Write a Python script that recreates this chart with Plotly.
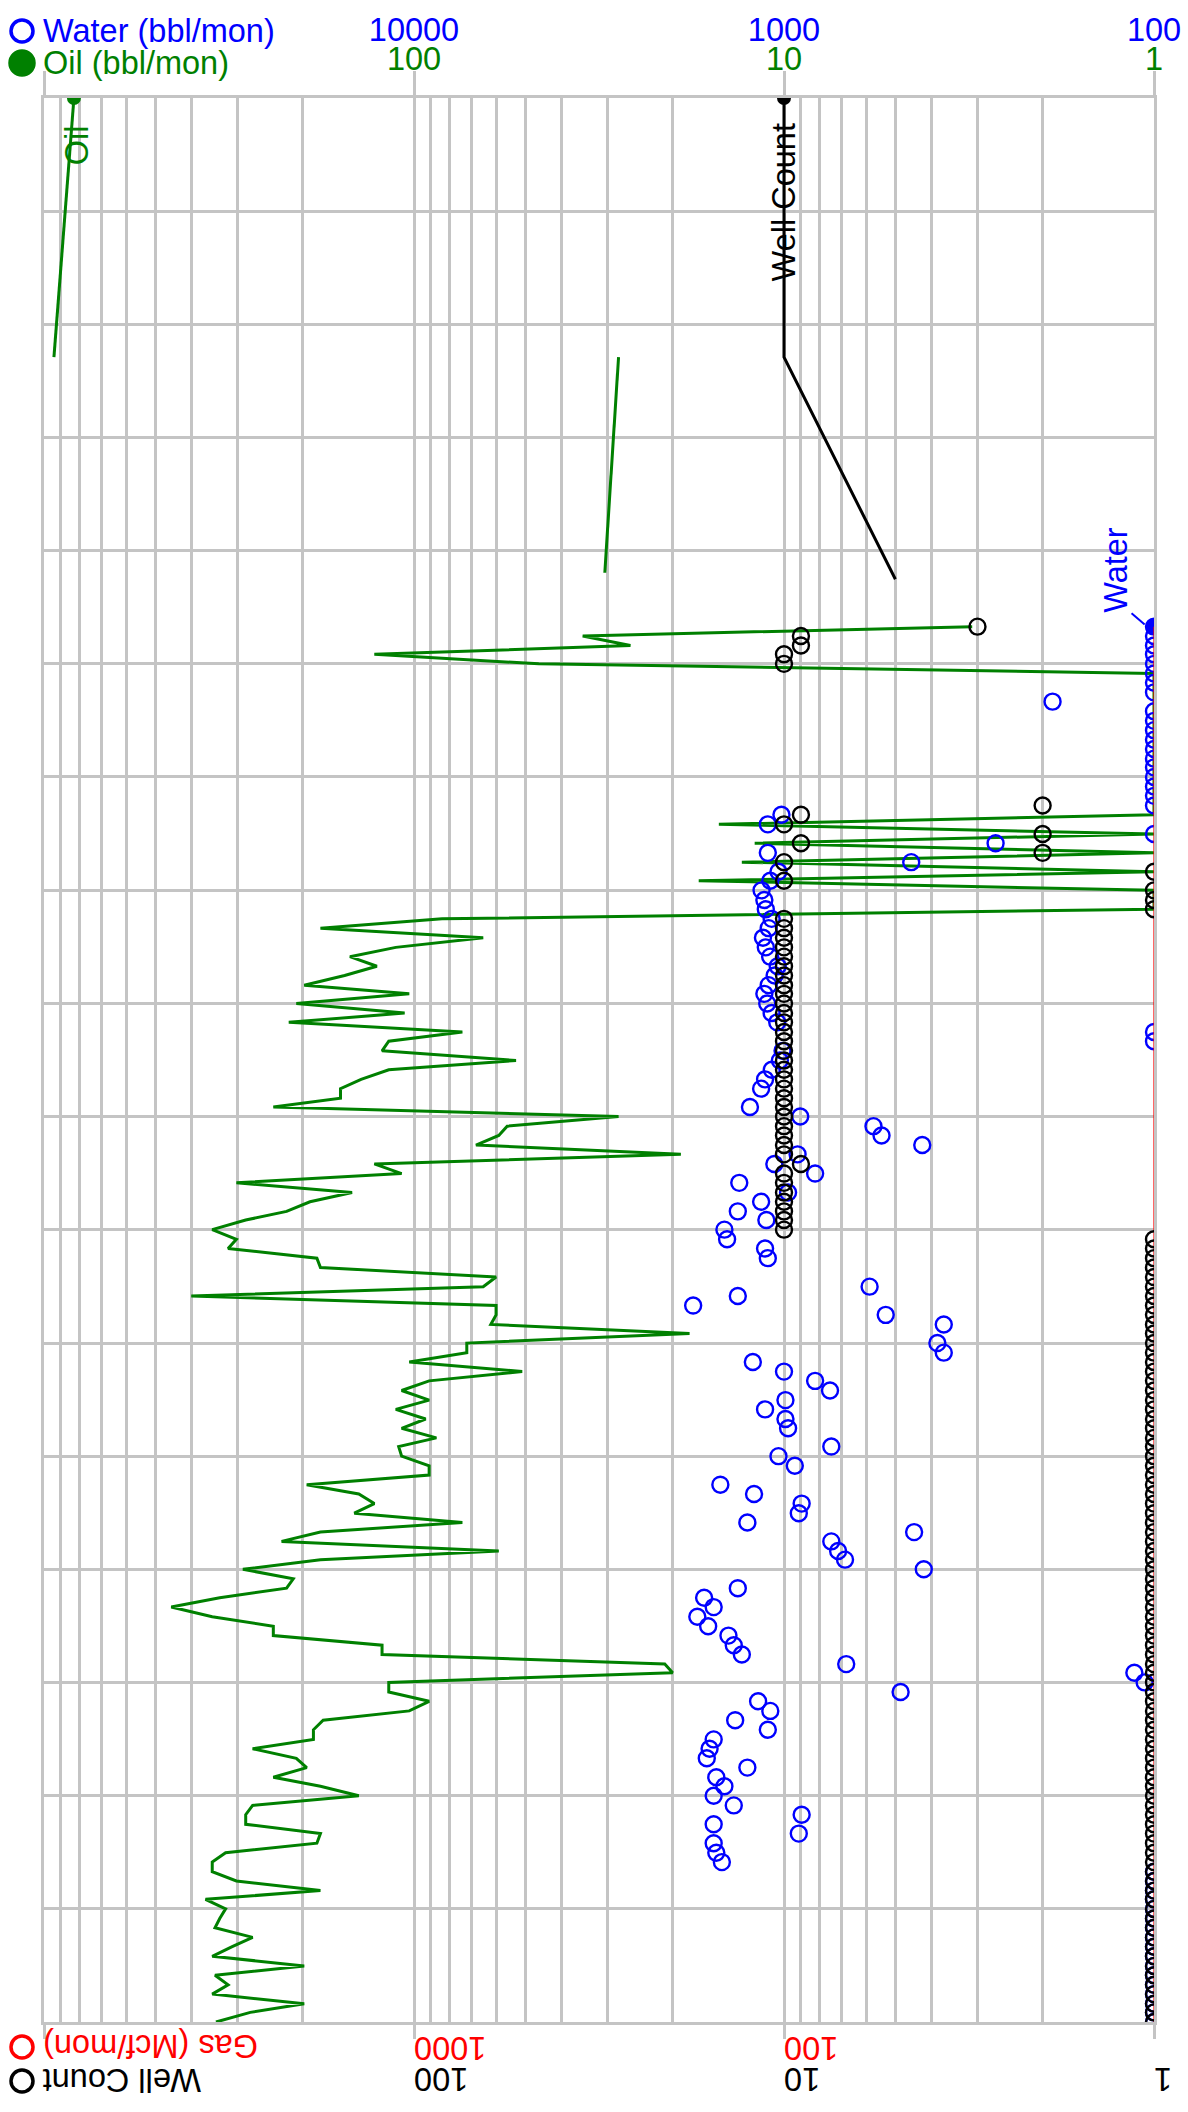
import pandas as pd
import plotly.graph_objects as go

# ---------------- monthly history, first month Jan 2010 ----------------
START = "2010-01-01"

oil_bbl = [
    343, 277, 198, 351, 318, 345, 198, 351, 310, 273,
    345, 335, 323, 366, 179, 302, 351, 351, 323, 183,
    179, 285, 285, 273, 141, 179, 240, 195, 208, 273,
    187, 187, 176, 103, 91, 117, 117, 20, 21, 122,
    122, 240, 240, 351, 453, 335, 221, 212, 290, 179,
    59, 228, 179, 74, 145, 128, 141, 195, 91, 91,
    108, 110, 87, 108, 93, 112, 91, 108, 91, 51,
    103, 72, 72, 18, 62, 60, 60, 400, 65, 60,
    179, 183, 318, 302, 351, 285, 221, 191, 147, 302,
    108, 128, 19, 68, 59, 56, 28, 240, 158, 158,
    139, 117, 53, 122, 117, 74, 218, 106, 208, 103,
    198, 154, 126, 149, 112, 65, 179, 84, 1, 1,
    1, 17, 1, 13, 1, 12, 1, 15, 1, 1,
    1, 1, 1, 1, 1, 1, 1, 1, 1, 1,
    1, 1, 1, 1, 46, 128, 26, 35, 3.1,
]

water_bbl = [
    100, 100, 100, 100, 100, 100, 100, 100, 100, 100,
    100, 100, 100, 100, 100, 100, 100, 1472, 1524, 1549,
    912, 1549, 896, 1367, 1549, 1449, 1524, 1256, 1617, 1589,
    1549, 1106, 1355, 1089, 1175, 484, 106, 113, 679, 1300,
    1367, 1413, 1603, 1715, 1549, 1644, 1333, None, 419, 684,
    714, 745, 445, 1256, 912, 896, 1205, 1486, None, 935,
    1035, 745, None, 975, 991, 1125, 991, 751, 824, 1000,
    1214, 370, 385, None, 370, 531, 1760, 1333, 587, None,
    None, 1106, 1125, 1425, 1449, 1116, 1333, 1153, 975, 1321,
    824, 1062, 919, 423, 545, 573, 904, 1236, None, 1153,
    1125, 1079, 1026, 1009, 100, 100, 1043, 1080, 1110, 1130,
    1100, 1060, 1040, 1090, 1120, 1140, 1100, 1080, 1120, 1130,
    1150, 1089, 1035, 453, 1106, 268, 100, 1106, 1016, 100,
    100, 100, 100, 100, 100, 100, 100, 100, 100, 100,
    188, 100, 100, 100, 100, 100, 100, 100, 100,
]

well_count = [
    1, 1, 1, 1, 1, 1, 1, 1, 1, 1,
    1, 1, 1, 1, 1, 1, 1, 1, 1, 1,
    1, 1, 1, 1, 1, 1, 1, 1, 1, 1,
    1, 1, 1, 1, 1, 1, 1, 1, 1, 1,
    1, 1, 1, 1, 1, 1, 1, 1, 1, 1,
    1, 1, 1, 1, 1, 1, 1, 1, 1, 1,
    1, 1, 1, 1, 1, 1, 1, 1, 1, 1,
    1, 1, 1, 1, 1, 1, 1, 1, 1, 1,
    1, 1, 1, 1, 10, 10, 10, 10, 10, 10,
    10, 9, 10, 10, 10, 10, 10, 10, 10, 10,
    10, 10, 10, 10, 10, 10, 10, 10, 10, 10,
    10, 10, 10, 10, 10, 10, 10, 10, 1, 1,
    1, 10, 1, 10, 2, 9, 2, 10, 9, 2,
    None, None, None, None, None, None, None, None, None, None,
    None, None, None, None, 10, 10, 9, 9, 3,
]

# gas reported at the axis floor for the whole history
gas_dates = ["2010-01-01", "2022-05-01"]
gas_mcf = [10, 10]

# label call-outs (value, date)
oil_leader_a = ([830, 940], ["2027-01-01", "2024-09-17"])
oil_leader_b = ([28, 30.5], ["2024-09-17", "2022-10-22"])
well_leader = ([10, 10, 5], ["2027-01-01", "2024-09-17", "2022-10-01"])
water_leader = ([115, 106], ["2022-06-13", "2022-05-08"])

# axis tick values
oil_ticks = [1, 10, 100, 1000]
oil_ticktext = ["1", "10", "100", ""]
water_ticks = [100, 1000, 10000]
water_ticktext = ["100", "1000", "10000"]
gas_ticks = [10, 100, 1000, 10000]
gas_ticktext = ["10", "100", "1000", ""]
well_ticks = [1, 10, 100]
well_ticktext = ["1", "10", "100"]
minor_oil = [m * d for d in (1, 10, 100) for m in range(2, 10)]

DATE_RANGE = ["2010-01-01", "2027-01-01"]

months = pd.date_range(START, periods=len(oil_bbl), freq="MS")

GREEN = "#008000"
BLUE = "#0000ff"
RED = "#ff0000"
BLACK = "#000000"
GRID = "#c4c4c4"
FONT = "Liberation Sans, Arial, sans-serif"
FS = 32.5
MS = 16

W, H = 1188, 2112
L, R, T, B = 44, 1154, 98, 2022


def px(x):
    return (x - L) / (R - L)


def py(y):
    return (B - y) / (B - T)


fig = go.Figure()

fig.add_trace(go.Scatter(
    x=gas_mcf, y=gas_dates, xaxis="x3", yaxis="y", mode="lines",
    line=dict(color=RED, width=1.2), hoverinfo="skip"))

fig.add_trace(go.Scatter(
    x=well_count, y=months, xaxis="x4", yaxis="y", mode="markers",
    marker=dict(symbol="circle-open", size=MS, color=BLACK, line=dict(width=2.4))))

fig.add_trace(go.Scatter(
    x=water_bbl, y=months, xaxis="x2", yaxis="y", mode="markers",
    marker=dict(symbol="circle-open", size=MS, color=BLUE, line=dict(width=2.4))))

fig.add_trace(go.Scatter(
    x=oil_bbl, y=months, xaxis="x", yaxis="y", mode="lines",
    line=dict(color=GREEN, width=3)))

# call-out leaders
fig.add_trace(go.Scatter(x=oil_leader_a[0], y=oil_leader_a[1], xaxis="x", yaxis="y",
                         mode="lines", line=dict(color=GREEN, width=3)))
fig.add_trace(go.Scatter(x=oil_leader_b[0], y=oil_leader_b[1], xaxis="x", yaxis="y",
                         mode="lines", line=dict(color=GREEN, width=3)))
fig.add_trace(go.Scatter(x=[oil_leader_a[0][0]], y=[oil_leader_a[1][0]], xaxis="x", yaxis="y",
                         mode="markers", marker=dict(color=GREEN, size=14)))
fig.add_trace(go.Scatter(x=well_leader[0], y=well_leader[1], xaxis="x4", yaxis="y",
                         mode="lines", line=dict(color=BLACK, width=3)))
fig.add_trace(go.Scatter(x=[well_leader[0][0]], y=[well_leader[1][0]], xaxis="x4", yaxis="y",
                         mode="markers", marker=dict(color=BLACK, size=14)))
fig.add_trace(go.Scatter(x=water_leader[0], y=water_leader[1], xaxis="x2", yaxis="y",
                         mode="lines", line=dict(color=BLUE, width=2)))
fig.add_trace(go.Scatter(x=[water_bbl[-1]], y=[months[-1]], xaxis="x2", yaxis="y",
                         mode="markers", marker=dict(color=BLUE, size=MS)))

common = dict(type="log", automargin=False, zeroline=False)

fig.update_layout(
    template="none",
    width=W, height=H,
    margin=dict(l=L, r=W - R, t=T, b=H - B, pad=0),
    paper_bgcolor="white", plot_bgcolor="white",
    showlegend=False,
    font=dict(family=FONT, size=FS),
    xaxis=dict(
        **common, range=[3, 0], side="top", anchor="y",
        tickvals=oil_ticks, ticktext=oil_ticktext,
        tickfont=dict(color=GREEN, size=FS),
        ticks="outside", ticklen=24, tickwidth=2.5, tickcolor=GRID,
        ticklabelstandoff=-12,
        showgrid=True, gridcolor=GRID, gridwidth=2.5,
        minor=dict(tickvals=minor_oil, showgrid=True, gridcolor=GRID, gridwidth=2.5, ticks=""),
        showline=True, linecolor=GRID, linewidth=2.5, mirror=True,
    ),
    xaxis2=dict(
        **common, range=[5, 2], side="top", anchor="y", overlaying="x",
        tickvals=water_ticks, ticktext=water_ticktext, tickfont=dict(color=BLUE, size=FS),
        ticks="", showgrid=False, showline=False, ticklabelstandoff=50,
    ),
    xaxis3=dict(
        **common, range=[4, 1], side="bottom", anchor="y", overlaying="x",
        tickvals=gas_ticks, ticktext=gas_ticktext, tickangle=180,
        tickfont=dict(color=RED, size=FS),
        ticks="outside", ticklen=16, tickwidth=2.5, tickcolor=GRID,
        ticklabelstandoff=-9,
        showgrid=False, showline=False,
    ),
    xaxis4=dict(
        **common, range=[3, 0], side="bottom", anchor="y", overlaying="x",
        tickvals=well_ticks, ticktext=well_ticktext, tickangle=180,
        tickfont=dict(color=BLACK, size=FS),
        ticks="", showgrid=False, showline=False, ticklabelstandoff=45,
    ),
    yaxis=dict(
        type="date", range=DATE_RANGE, side="right", automargin=False,
        dtick="M12", tick0="2010-01-01", ticklabelmode="period", tickformat="%y",
        tickangle=-90, tickfont=dict(color=BLACK, size=FS),
        ticks="", ticklabelstandoff=28,
        showgrid=True, gridcolor=GRID, gridwidth=2.5,
        showline=True, linecolor=GRID, linewidth=2.5, mirror=True, zeroline=False,
    ),
)

# legend blocks drawn as text + symbols around the frame
shapes = []


def legend_circle(cx, cy, r, color, filled):
    shapes.append(dict(
        type="circle", xref="paper", yref="paper",
        x0=px(cx - r), x1=px(cx + r), y0=py(cy + r), y1=py(cy - r),
        line=dict(color=color, width=3.5),
        fillcolor=color if filled else "rgba(0,0,0,0)"))


legend_circle(22, 31, 11, BLUE, False)
legend_circle(22, 63, 12, GREEN, True)
legend_circle(22, 2047, 11, RED, False)
legend_circle(22, 2081, 11, BLACK, False)
fig.update_layout(shapes=shapes)

ann = [
    dict(text="Water (bbl/mon)", x=px(41), y=py(31), xref="paper", yref="paper",
         xanchor="left", yanchor="middle", showarrow=False, font=dict(color=BLUE, size=FS)),
    dict(text="Oil (bbl/mon)", x=px(41), y=py(63), xref="paper", yref="paper",
         xanchor="left", yanchor="middle", showarrow=False, font=dict(color=GREEN, size=FS)),
    dict(text="Gas (Mcf/mon)", x=px(151), y=py(2046), xref="paper", yref="paper",
         xanchor="center", yanchor="middle", textangle=180, showarrow=False,
         font=dict(color=RED, size=FS)),
    dict(text="Well Count", x=px(122), y=py(2080), xref="paper", yref="paper",
         xanchor="center", yanchor="middle", textangle=180, showarrow=False,
         font=dict(color=BLACK, size=FS)),
    # series call-out labels
    dict(text="Oil", x=2.911, y="2026-08-01", xref="x", yref="y", textangle=-90,
         showarrow=False, font=dict(color=GREEN, size=FS)),
    dict(text="Well Count", x=1.0, y="2026-01-29", xref="x4", yref="y", textangle=-90,
         showarrow=False, font=dict(color=BLACK, size=FS)),
    dict(text="Water", x=2.105, y="2022-11-01", xref="x2", yref="y", textangle=-90,
         showarrow=False, font=dict(color=BLUE, size=FS)),
]
fig.update_layout(annotations=ann)

fig.write_html("out.html")
